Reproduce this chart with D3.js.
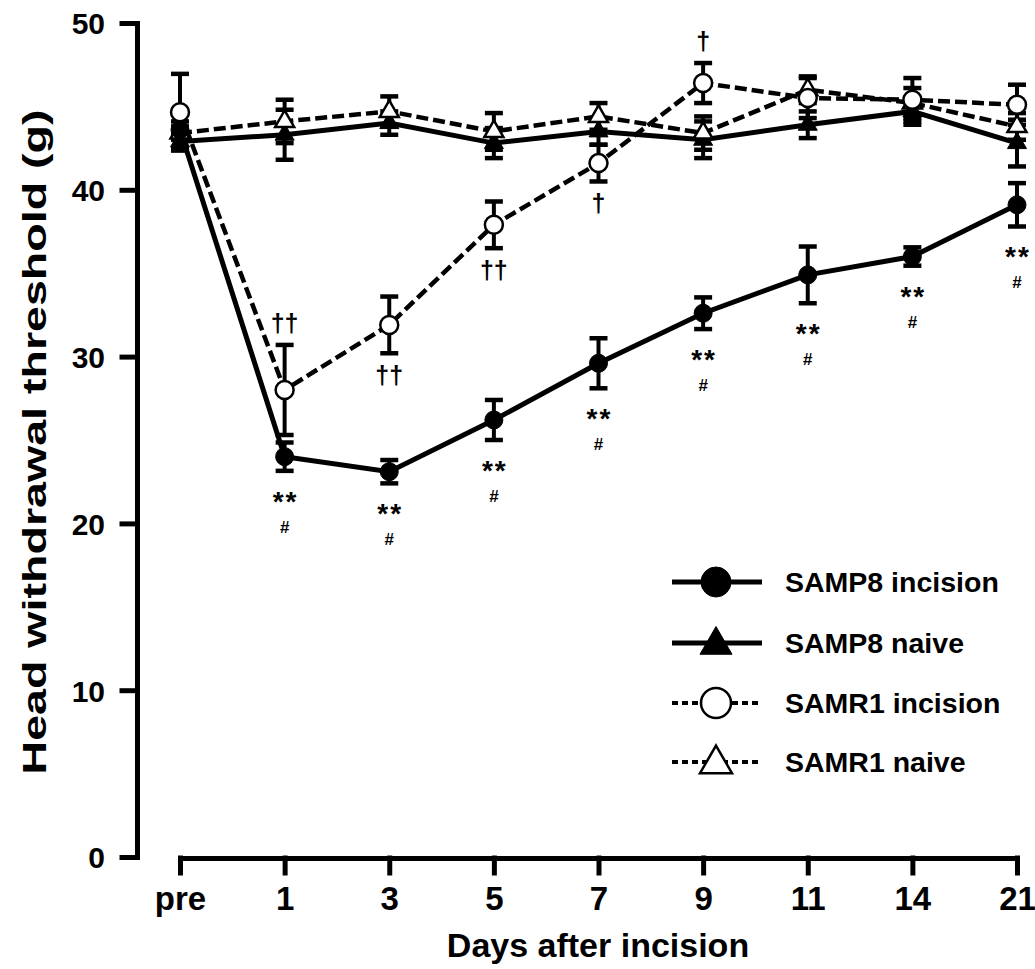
<!DOCTYPE html>
<html>
<head>
<meta charset="utf-8">
<script src="https://cdn.jsdelivr.net/npm/d3@7"></script>
<style>
  html, body { margin: 0; padding: 0; background: #fff; }
  text { font-family: "Liberation Sans", Arial, sans-serif; font-weight: bold; fill: #000; }
</style>
</head>
<body>
<svg id="chart" width="1035" height="969"></svg>
<script>
// ---- Data ----
const days = ["pre", "1", "3", "5", "7", "9", "11", "14", "21"];
const yTicks = [0, 10, 20, 30, 40, 50];

const samp8IncMean   = [43.6, 24.0, 23.1, 26.2, 29.6, 32.6, 34.9, 36.0, 39.1];
const samp8IncSem    = [0.5, 0.85, 0.7, 1.2, 1.5, 0.95, 1.7, 0.55, 1.3];
const samp8NaiveMean = [42.9, 43.3, 44.0, 42.8, 43.5, 43.0, 43.9, 44.7, 42.8];
const samp8NaiveSem  = [0.4, 1.5, 0.7, 0.9, 0.8, 1.1, 0.8, 0.8, 1.4];
const samr1IncMean   = [44.65, 28.0, 31.9, 37.9, 41.6, 46.4, 45.5, 45.4, 45.1];
const samr1IncSem    = [2.3, 2.7, 1.7, 1.4, 1.1, 1.2, 1.2, 1.3, 1.2];
const samr1NaiveMean = [43.4, 44.1, 44.7, 43.5, 44.4, 43.4, 46.0, 45.2, 43.8];
const samr1NaiveSem  = [0.4, 1.3, 0.9, 1.1, 0.8, 1.0, 0.8, 0.9, 0.8];

// significance marks
const samp8StarMarks = ["", "**", "**", "**", "**", "**", "**", "**", "**"];
const samp8HashMarks = ["", "#", "#", "#", "#", "#", "#", "#", "#"];
const samr1DaggerMarks = ["", "\u2020\u2020", "\u2020\u2020", "\u2020\u2020", "\u2020", "\u2020", "", "", ""];
const samr1DaggerSide  = ["", "above", "below", "below", "below", "above", "", "", ""];

const seriesNames = ["SAMP8 incision", "SAMP8 naive", "SAMR1 incision", "SAMR1 naive"];

// ---- Setup ----
const svg = d3.select("#chart");
const x = d3.scalePoint().domain(days).range([180, 1017]).padding(0);
const y = d3.scaleLinear().domain([0, 50]).range([857, 23]);

const series = [
  { name: seriesNames[0], mean: samp8IncMean,   sem: samp8IncSem,   symbol: d3.symbolCircle,   filled: true,  dashed: false },
  { name: seriesNames[1], mean: samp8NaiveMean, sem: samp8NaiveSem, symbol: d3.symbolTriangle, filled: true,  dashed: false },
  { name: seriesNames[2], mean: samr1IncMean,   sem: samr1IncSem,   symbol: d3.symbolCircle,   filled: false, dashed: true },
  { name: seriesNames[3], mean: samr1NaiveMean, sem: samr1NaiveSem, symbol: d3.symbolTriangle, filled: false, dashed: true },
];

function symSize(s, big) {
  if (s === d3.symbolCircle) return big ? Math.PI * 15 * 15 : Math.PI * 9 * 9;
  const a = big ? 32 : 19; return Math.sqrt(3) / 4 * a * a;
}

// ---- Axes ----
const yAxis = d3.axisLeft(y).tickValues(yTicks).tickSize(15).tickSizeOuter(0).tickPadding(17);
const gy = svg.append("g").attr("transform", "translate(137,0)").call(yAxis);
gy.select(".domain").attr("stroke", "#000").attr("stroke-width", 5);
gy.selectAll(".tick line").attr("stroke", "#000").attr("stroke-width", 5);
gy.selectAll(".tick text").style("font-size", "30px").attr("fill", "#000").attr("dy", "0.36em");

const xAxis = d3.axisBottom(x).tickSize(15).tickSizeOuter(0).tickPadding(14);
const gx = svg.append("g").attr("transform", "translate(0,858)").call(xAxis);
gx.select(".domain").attr("stroke", "#000").attr("stroke-width", 5);
gx.selectAll(".tick line").attr("stroke", "#000").attr("stroke-width", 5);
gx.selectAll(".tick text").style("font-size", "33px").attr("fill", "#000");

svg.selectAll(".domain, .tick line").attr("stroke-linecap", "square");
gx.select(".domain").attr("stroke-linecap", "butt");

// Axis titles
svg.append("text").attr("x", 598).attr("y", 957).attr("text-anchor", "middle")
  .style("font-size", "34px").text("Days after incision");
svg.append("text").attr("transform", "translate(46,442) rotate(-90)").attr("text-anchor", "middle")
  .attr("textLength", 665).attr("lengthAdjust", "spacingAndGlyphs")
  .style("font-size", "33px").text("Head withdrawal threshold (g)");

// ---- Lines ----
const line = d3.line().x((d, i) => x(days[i])).y(d => y(d));
series.forEach(s => {
  svg.append("path").datum(s.mean).attr("d", line)
    .attr("fill", "none").attr("stroke", "#000")
    .attr("stroke-width", s.dashed ? 4.5 : 5)
    .attr("stroke-dasharray", s.dashed ? "12,5" : null);
});

// ---- Error bars ----
series.forEach(s => {
  const g = svg.append("g");
  s.mean.forEach((m, i) => {
    const cx = x(days[i]);
    const top = y(m + s.sem[i]), bot = y(m - s.sem[i]);
    g.append("line").attr("x1", cx).attr("x2", cx).attr("y1", top).attr("y2", bot)
      .attr("stroke", "#000").attr("stroke-width", 4);
    [top, bot].forEach(yy => g.append("line").attr("x1", cx - 9).attr("x2", cx + 9)
      .attr("y1", yy).attr("y2", yy).attr("stroke", "#000").attr("stroke-width", 4.5));
  });
});

// ---- Markers ----
[series[1], series[3], series[2], series[0]].forEach(s => {
  const sym = d3.symbol().type(s.symbol).size(symSize(s.symbol, false));
  svg.append("g").selectAll("path").data(s.mean).join("path")
    .attr("d", sym)
    .attr("transform", (d, i) => `translate(${x(days[i])},${y(d)})`)
    .attr("fill", s.filled ? "#000" : "#fff")
    .attr("stroke", "#000").attr("stroke-width", s.filled ? 1 : 2.5);
});

// ---- Significance marks ----
samp8IncMean.forEach((m, i) => {
  if (!samp8StarMarks[i]) return;
  const cx = x(days[i]);
  const cStar = y(m - samp8IncSem[i]) + 24;
  svg.append("text").attr("x", cx + 1).attr("y", cStar + 16).attr("text-anchor", "middle")
    .style("font-size", "28px").style("letter-spacing", "2px").text(samp8StarMarks[i]);
  svg.append("text").attr("x", cx).attr("y", cStar + 32 + 6).attr("text-anchor", "middle")
    .style("font-size", "17px").text(samp8HashMarks[i]);
});
samr1IncMean.forEach((m, i) => {
  if (!samr1DaggerMarks[i]) return;
  const cx = x(days[i]);
  const c = samr1DaggerSide[i] === "above" ? y(m + samr1IncSem[i]) - 20 : y(m - samr1IncSem[i]) + 24;
  svg.append("text").attr("x", cx).attr("y", c + 7).attr("text-anchor", "middle")
    .style("font-size", "25px").text(samr1DaggerMarks[i]);
});

// ---- Legend ----
const legendRows = [582, 643, 703, 762];
series.forEach((s, k) => {
  const ly = legendRows[k];
  svg.append("line").attr("x1", 672).attr("x2", 762).attr("y1", ly).attr("y2", ly)
    .attr("stroke", "#000").attr("stroke-width", s.dashed ? 4 : 5)
    .attr("stroke-dasharray", s.dashed ? "6,4" : null);
  svg.append("path").attr("d", d3.symbol().type(s.symbol).size(symSize(s.symbol, true))())
    .attr("transform", `translate(716,${ly + (s.symbol === d3.symbolTriangle ? 2 : 0)})`)
    .attr("fill", s.filled ? "#000" : "#fff").attr("stroke", "#000").attr("stroke-width", s.filled ? 1 : 2.5);
  svg.append("text").attr("x", 785).attr("y", ly + 10).style("font-size", "28.5px").text(s.name);
});
</script>
</body>
</html>
